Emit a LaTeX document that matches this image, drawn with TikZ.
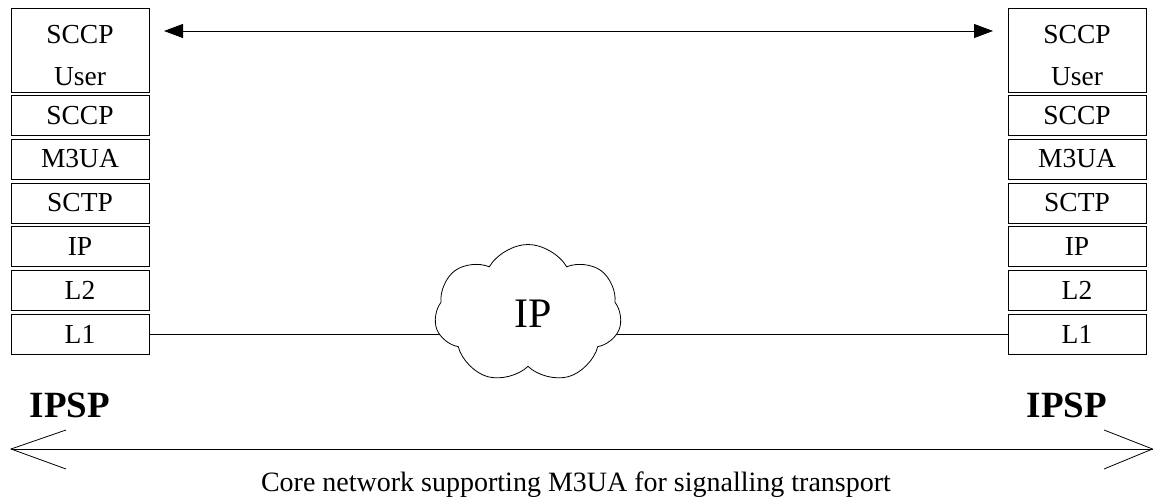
\documentclass[tikz,border=0pt]{standalone}
\usepackage{fontspec}
\setmainfont{Liberation Serif}
\usetikzlibrary{shapes.symbols,arrows.meta}
\begin{document}
\begin{tikzpicture}[x=1pt,y=-1pt,
  layer/.style={draw,line width=0.8pt,minimum width=138pt,minimum height=40pt,inner sep=0pt,
    font=\fontsize{27.5}{27.5}\selectfont},
  toplayer/.style={layer,minimum height=84pt,align=center,
    font=\fontsize{27.5}{42}\selectfont},
  ipsp/.style={font=\fontsize{37}{37}\selectfont\bfseries},
  conn/.style={line width=0.8pt}]
\useasboundingbox (0,0) rectangle (1153,502);
% left stack
\node[toplayer] (UL) at (80,50) {\strut SCCP\\User};
\node[layer] (SCCPL) at (80,115.5) {SCCP};
\node[layer] (M3UAL) at (80,159) {M3UA};
\node[layer] (SCTPL) at (80,203) {SCTP};
\node[layer] (IPL) at (80,246.5) {IP};
\node[layer] (L2L) at (80,290.5) {L2};
\node[layer] (L1L) at (80,334.5) {L1};
% right stack
\node[toplayer] (UR) at (1077,50) {\strut SCCP\\User};
\node[layer] (SCCPR) at (1077,115.5) {SCCP};
\node[layer] (M3UAR) at (1077,159) {M3UA};
\node[layer] (SCTPR) at (1077,203) {SCTP};
\node[layer] (IPR) at (1077,246.5) {IP};
\node[layer] (L2R) at (1077,290.5) {L2};
\node[layer] (L1R) at (1077,334.5) {L1};
% L1 connection
\draw[conn] (L1L.east) -- (L1R.west);
\node[cloud,cloud puffs=7,cloud puff arc=120,draw,fill=white,line width=0.8pt,
  minimum width=187pt,minimum height=139pt,inner sep=0pt,aspect=1.35] (cloud) at (528,314) {};
\node[font=\fontsize{42}{42}\selectfont] (iptext) at (533,314) {IP};
% top arrow
\coordinate (ta) at (164,31);
\coordinate (tb) at (993,31);
\draw[conn,{Triangle[length=19pt,width=14pt]}-{Triangle[length=19pt,width=14pt]}] (ta) -- (tb);
% IPSP labels
\node[ipsp] (ipspL) at (70,405) {IPSP};
\node[ipsp] (ipspR) at (1067,405) {IPSP};
% bottom arrow
\coordinate (bl) at (11,449);
\coordinate (br) at (1152.5,449);
\draw[conn] (bl) -- (br);
\draw[conn] (66,430) -- (bl) -- (66,469);
\draw[conn] (1104,430) -- (br) -- (1104,469);
\node[font=\fontsize{28}{28}\selectfont] (core) at (576,485) {Core network supporting M3UA for signalling transport};
\end{tikzpicture}
\end{document}
